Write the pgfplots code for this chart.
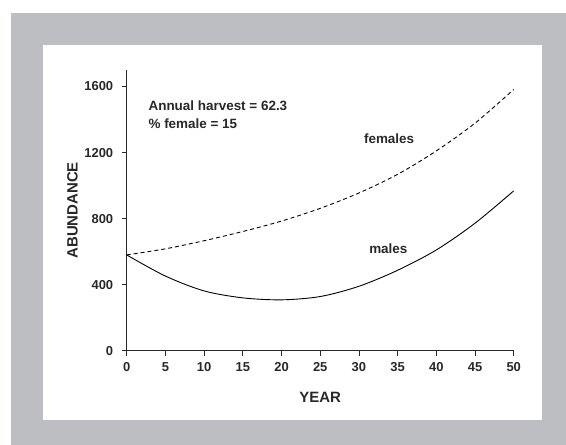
\documentclass[border=0pt]{standalone}
\usepackage{fontspec}
\setmainfont{Liberation Sans}
\usepackage{pgfplots}
\pgfplotsset{compat=1.18}
\definecolor{bordergray}{RGB}{189,190,194}
\definecolor{inkgray}{RGB}{40,40,40}

% Abundance of females and males under a constant harvest
\pgfplotstableread{
year females
0  580
5  617
10 666
15 722
20 785
25 862
30 955
35 1068
40 1210
45 1378
50 1582
}\femaletab
\pgfplotstableread{
year males
0  580
5  452
10 362
15 320
20 308
25 328
30 390
35 487
40 610
45 772
50 968
}\maletab

\begin{document}
\begin{tikzpicture}[x=1bp,y=1bp]
  % background frame, placed relative to the axis origin at (0,0)
  \begin{scope}[shift={(-126.7,-94.3)}]
    \fill[white] (0,0) rectangle (566,445);
    \fill[bordergray] (11,0) rectangle (566,432);
    \fill[white] (43,25) rectangle (542,400);
  \end{scope}

  \begin{axis}[
      anchor=origin,
      scale only axis,
      width=387bp, height=280.7bp,
      xmin=0, xmax=50, ymin=0, ymax=1700,
      axis lines*=left,
      axis line style={inkgray, line width=0.8bp},
      xtick={0,5,...,50},
      ytick={0,400,...,1600},
      tick align=outside,
      major tick length=5bp,
      tick style={inkgray, line width=0.8bp},
      /pgf/number format/assume math mode=true,
      /pgf/number format/1000 sep={},
      ticklabel style={font=\fontsize{13}{15}\selectfont\bfseries, text=inkgray},
      xticklabel style={yshift=-3bp},
      yticklabel style={xshift=-5bp},
      xlabel={YEAR},
      ylabel={ABUNDANCE},
      label style={font=\fontsize{15}{17}\selectfont\bfseries, text=inkgray},
      xlabel style={at={(axis description cs:0.5,-0.165)}, anchor=center},
      ylabel style={at={(axis description cs:-0.14,0.5)}, anchor=center},
      clip=false,
    ]
    \addplot[black, line width=0.9bp, dash pattern=on 4bp off 3bp, smooth] table[x=year, y=females] {\femaletab};
    \addplot[black, line width=0.9bp, smooth] table[x=year, y=males] {\maletab};

    \node[anchor=base west, inner sep=0, font=\fontsize{13.5}{15}\selectfont\bfseries, text=inkgray]
      at (axis cs:2.8,1455) {Annual harvest = 62.3};
    \node[anchor=base west, inner sep=0, font=\fontsize{13.5}{15}\selectfont\bfseries, text=inkgray]
      at (axis cs:2.8,1348) {\% female = 15};
    \node[font=\fontsize{13.5}{15}\selectfont\bfseries, text=inkgray]
      at (axis cs:33.9,1283) {females};
    \node[font=\fontsize{13.5}{15}\selectfont\bfseries, text=inkgray]
      at (axis cs:33.8,620) {males};
  \end{axis}
\end{tikzpicture}
\end{document}
